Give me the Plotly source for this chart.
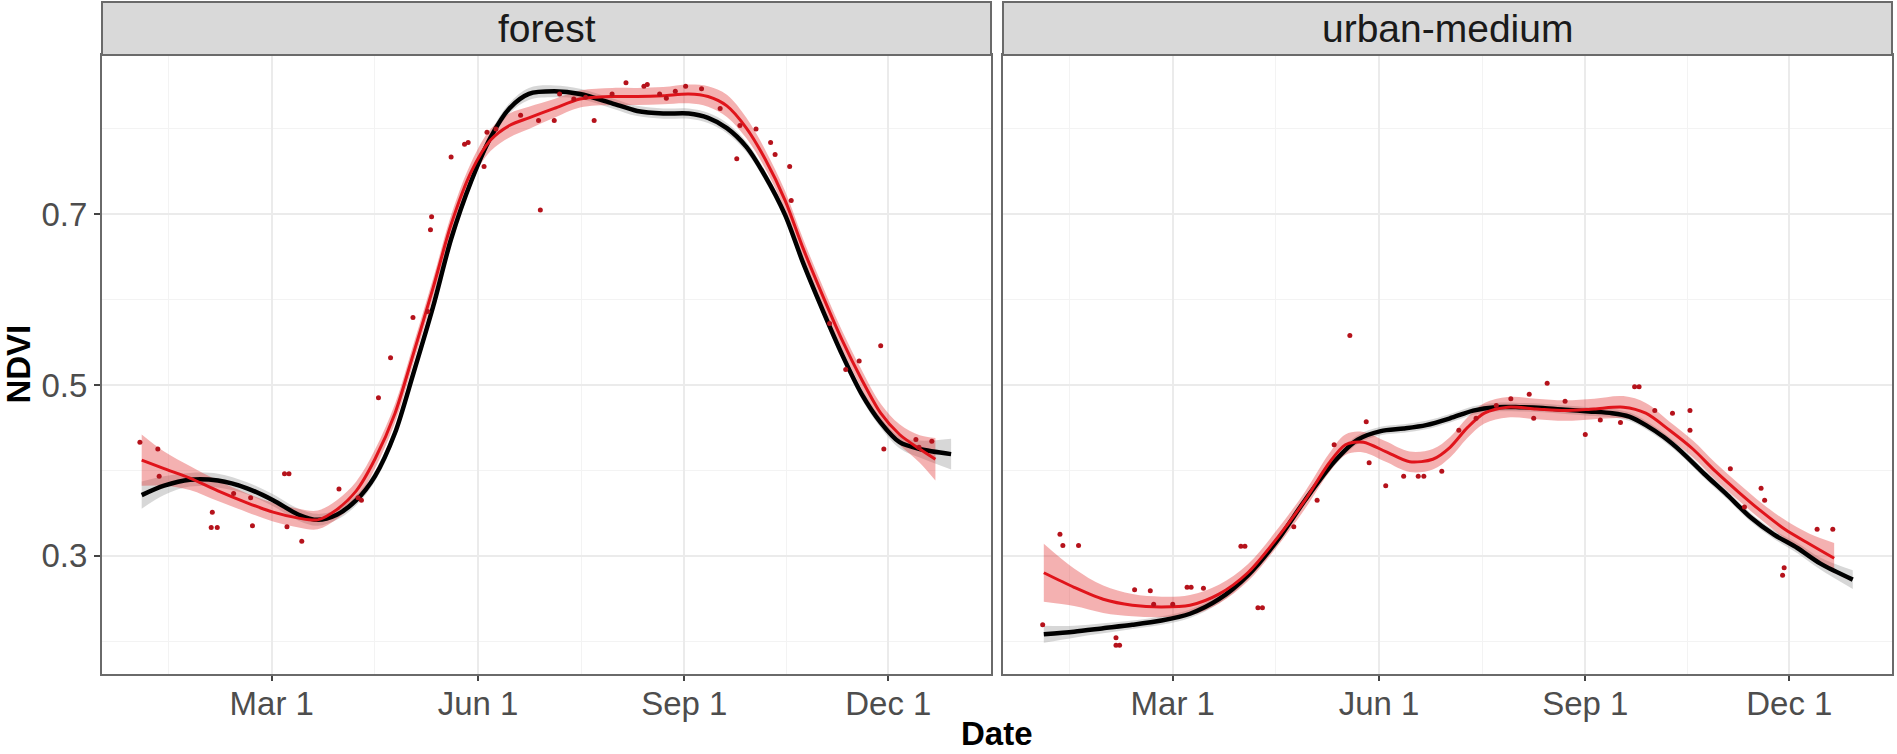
import pandas as pd
import plotly.graph_objects as go

# ---------------- data (day of year, NDVI) ----------------
BASE = pd.Timestamp("2017-01-01")

forest_black_day = [2, 12, 23.5, 36, 49, 60.6, 72, 80.5, 89, 97.7, 106, 115, 123, 132, 140, 149, 157.6, 166,
                    174.7, 186, 197.5, 211.8, 223, 234.6, 246, 254.6, 263, 271.7, 280, 289, 297, 306, 314.5,
                    323, 331.6, 340, 349, 363]
forest_black_val = [0.371, 0.382, 0.389, 0.388, 0.379, 0.365, 0.348, 0.342, 0.348, 0.365, 0.393, 0.444, 0.512,
                    0.592, 0.671, 0.739, 0.790, 0.824, 0.841, 0.844, 0.841, 0.830, 0.821, 0.818, 0.818, 0.813,
                    0.801, 0.779, 0.745, 0.699, 0.643, 0.586, 0.535, 0.490, 0.456, 0.433, 0.425, 0.419]
forest_black_se = [0.016, 0.011, 0.008, 0.008, 0.007, 0.007, 0.007, 0.007, 0.006, 0.006, 0.006, 0.006, 0.006,
                   0.006, 0.006, 0.006, 0.006, 0.006, 0.007, 0.007, 0.006, 0.006, 0.006, 0.006, 0.006, 0.006,
                   0.006, 0.006, 0.006, 0.006, 0.006, 0.006, 0.006, 0.006, 0.006, 0.007, 0.010, 0.018]

forest_red_day = [2, 12, 23.5, 36, 49, 60.6, 72, 80.5, 89, 97.7, 106, 115, 123, 132, 140, 149, 157.6, 166,
                  174.7, 186, 197.5, 211.8, 223, 234.6, 246, 254.6, 263, 271.7, 280, 289, 297, 306, 314.5,
                  323, 331.6, 340, 349, 356]
forest_red_val = [0.412, 0.402, 0.391, 0.376, 0.362, 0.351, 0.344, 0.342, 0.354, 0.376, 0.413, 0.467, 0.535,
                  0.614, 0.688, 0.750, 0.787, 0.804, 0.813, 0.824, 0.835, 0.838, 0.838, 0.839, 0.841, 0.838,
                  0.827, 0.801, 0.765, 0.716, 0.660, 0.603, 0.552, 0.507, 0.467, 0.442, 0.425, 0.413]
forest_red_se = [0.030, 0.020, 0.014, 0.012, 0.011, 0.011, 0.011, 0.011, 0.011, 0.011, 0.011, 0.011, 0.011,
                 0.011, 0.011, 0.011, 0.013, 0.014, 0.013, 0.011, 0.010, 0.010, 0.010, 0.010, 0.011, 0.012,
                 0.013, 0.012, 0.011, 0.011, 0.011, 0.011, 0.011, 0.011, 0.011, 0.012, 0.016, 0.025]

forest_pts_day = [1.2, 9.2, 9.8, 33.5, 33, 35.7, 43, 50.6, 51.4, 65.7, 67.7, 66.8, 73.4, 90, 98.5, 100, 107.6,
                  113, 123, 129.6, 130.8, 131.3, 140, 146, 147.6, 154.7, 156, 171, 179.8, 179, 186, 188.4,
                  194.7, 203.8, 211.8, 218, 226, 227.5, 233, 240, 244.6, 251.7, 260, 267.4, 268.8, 276,
                  282.5, 284.5, 291, 291.7, 308.8, 316, 322, 331.6, 333, 347.3, 348.7, 354.4, 160, 200, 236]
forest_pts_val = [0.433, 0.425, 0.393, 0.351, 0.333, 0.333, 0.373, 0.368, 0.335, 0.396, 0.396, 0.334, 0.317,
                  0.378, 0.368, 0.365, 0.485, 0.532, 0.579, 0.586, 0.682, 0.697, 0.767, 0.782, 0.784, 0.756,
                  0.796, 0.816, 0.705, 0.810, 0.810, 0.841, 0.835, 0.810, 0.841, 0.854, 0.850, 0.852, 0.841,
                  0.844, 0.850, 0.847, 0.824, 0.765, 0.804, 0.800, 0.784, 0.770, 0.756, 0.716, 0.572, 0.518,
                  0.528, 0.546, 0.425, 0.436, 0.427, 0.434, 0.800, 0.837, 0.836]

urban_black_day = [2.5, 16, 29, 42, 55, 67.7, 80.6, 93.5, 106.4, 119, 132, 142.5, 152.8, 163, 173, 183.7, 194,
                   204, 214.6, 225, 235, 245.6, 256, 263.6, 271, 279, 286.8, 297, 307.4, 317.7, 328, 338.6,
                   348.7, 363.3]
urban_black_val = [0.208, 0.211, 0.215, 0.219, 0.224, 0.232, 0.249, 0.277, 0.317, 0.365, 0.410, 0.436, 0.446,
                   0.449, 0.453, 0.461, 0.470, 0.474, 0.474, 0.473, 0.471, 0.469, 0.467, 0.463, 0.453, 0.439,
                   0.422, 0.396, 0.371, 0.345, 0.325, 0.309, 0.291, 0.272]
urban_black_se = [0.010, 0.007, 0.006, 0.005, 0.005, 0.005, 0.005, 0.005, 0.005, 0.005, 0.005, 0.005, 0.005,
                  0.005, 0.005, 0.005, 0.005, 0.005, 0.005, 0.005, 0.005, 0.005, 0.005, 0.005, 0.005, 0.005,
                  0.005, 0.005, 0.005, 0.005, 0.005, 0.006, 0.007, 0.011]

urban_red_day = [2.5, 16, 29, 42, 55, 67.7, 80.6, 93.5, 106.4, 119, 129.6, 137, 145, 155, 165.7, 176, 183.7,
                 191.4, 199, 209.5, 222, 235, 248, 261, 271, 281.6, 292, 302, 312.6, 323, 333, 343.8, 355]
urban_red_val = [0.280, 0.263, 0.249, 0.242, 0.240, 0.242, 0.255, 0.280, 0.320, 0.365, 0.408, 0.430, 0.433,
                 0.422, 0.410, 0.413, 0.427, 0.450, 0.467, 0.474, 0.472, 0.470, 0.472, 0.474, 0.467, 0.447,
                 0.425, 0.399, 0.374, 0.351, 0.331, 0.314, 0.297]
urban_red_se = [0.034, 0.022, 0.016, 0.013, 0.012, 0.012, 0.011, 0.010, 0.010, 0.010, 0.011, 0.012, 0.012,
                0.012, 0.012, 0.012, 0.012, 0.012, 0.012, 0.012, 0.012, 0.012, 0.012, 0.013, 0.012, 0.010,
                0.010, 0.010, 0.010, 0.010, 0.011, 0.012, 0.018]

urban_pts_day = [2, 9.7, 11, 18, 34.7, 34.7, 36.3, 43, 50, 51.5, 60, 66.4, 68.2, 73.7, 90.4, 92.2, 98, 100,
                 114, 124.4, 132, 139, 146.3, 147.6, 155, 163, 169.5, 172, 180, 187.6, 195.3, 204.3, 210.8,
                 219, 221, 227, 235, 244, 250.7, 259.7, 266, 268, 275, 282.9, 290.7, 290.7, 308.7, 315,
                 322.4, 324, 332, 332.7, 347.4, 354.4]
urban_pts_val = [0.219, 0.325, 0.312, 0.312, 0.204, 0.195, 0.195, 0.260, 0.259, 0.243, 0.243, 0.263, 0.263,
                 0.262, 0.311, 0.311, 0.239, 0.239, 0.334, 0.365, 0.430, 0.558, 0.457, 0.409, 0.382, 0.393,
                 0.393, 0.393, 0.399, 0.447, 0.461, 0.476, 0.484, 0.489, 0.461, 0.502, 0.481, 0.442, 0.459,
                 0.456, 0.498, 0.498, 0.470, 0.467, 0.470, 0.447, 0.402, 0.357, 0.379, 0.365, 0.277, 0.286,
                 0.331, 0.331]

panels = ["forest", "urban-medium"]
major_ticks_day = [60, 152, 244, 335]
major_ticks_text = ["Mar 1", "Jun 1", "Sep 1", "Dec 1"]
minor_ticks_day = [14, 106, 198, 289.5]
x_range_day = [-15.7, 380.8]
y_range = [0.1614, 0.8866]
y_ticks = [0.3, 0.5, 0.7]


def to_date(days):
    return [BASE + pd.Timedelta(days=d - 1) for d in days]


# ---------------- figure ----------------
BLACK = "#000000"
RED = "#E0141B"
RED_FILL = "rgba(225,50,50,0.38)"
GREY_FILL = "rgba(140,140,140,0.35)"
PT = "#B5121B"
FONT = "Liberation Sans, Arial, sans-serif"

fig = go.Figure()


def ribbon(day, val, se, color, xa, ya):
    x = to_date(day)
    up = [v + s for v, s in zip(val, se)]
    lo = [v - s for v, s in zip(val, se)]
    fig.add_trace(go.Scatter(x=x, y=up, mode="lines", line=dict(width=0, shape="spline"),
                             xaxis=xa, yaxis=ya, showlegend=False, hoverinfo="skip"))
    fig.add_trace(go.Scatter(x=x, y=lo, mode="lines", line=dict(width=0, shape="spline"),
                             fill="tonexty", fillcolor=color, xaxis=xa, yaxis=ya,
                             showlegend=False, hoverinfo="skip"))


def line(day, val, color, width, xa, ya):
    fig.add_trace(go.Scatter(x=to_date(day), y=val, mode="lines",
                             line=dict(color=color, width=width, shape="spline", smoothing=0.8),
                             xaxis=xa, yaxis=ya, showlegend=False))


def points(day, val, xa, ya):
    fig.add_trace(go.Scatter(x=to_date(day), y=val, mode="markers",
                             marker=dict(color=PT, size=5), xaxis=xa, yaxis=ya, showlegend=False))


sets = [
    ("x", "y", forest_black_day, forest_black_val, forest_black_se,
     forest_red_day, forest_red_val, forest_red_se, forest_pts_day, forest_pts_val),
    ("x2", "y2", urban_black_day, urban_black_val, urban_black_se,
     urban_red_day, urban_red_val, urban_red_se, urban_pts_day, urban_pts_val),
]
for xa, ya, bd, bv, bs, rd, rv, rs, pd_, pv in sets:
    ribbon(bd, bv, bs, GREY_FILL, xa, ya)
    ribbon(rd, rv, rs, RED_FILL, xa, ya)
    line(bd, bv, BLACK, 4.5, xa, ya)
    line(rd, rv, RED, 3, xa, ya)
    points(pd_, pv, xa, ya)

W, H = 1897, 754
ml, mr, mt, mb = 102, 3, 55, 80
pw = W - ml - mr
ph = H - mt - mb
gap = 12
panel_w = (pw - gap) / 2
d1 = [0, panel_w / pw]
d2 = [(panel_w + gap) / pw, 1]

tick_font = dict(family=FONT, size=33, color="#4D4D4D")
xr = [to_date([x_range_day[0]])[0], to_date([x_range_day[1]])[0]]

xaxis_common = dict(
    type="date", range=xr, tickmode="array", tickvals=to_date(major_ticks_day), ticktext=major_ticks_text,
    showgrid=True, gridcolor="#EBEBEB", gridwidth=2,
    minor=dict(tickmode="array", tickvals=to_date(minor_ticks_day), showgrid=True,
               gridcolor="#F3F3F3", gridwidth=1.2, ticks=""),
    ticks="outside", ticklen=5, tickwidth=2, tickcolor="#444444", ticklabelstandoff=-6,
    showline=True, linecolor="#6A6A6A", linewidth=2, mirror=True,
    tickfont=tick_font, zeroline=False, fixedrange=True,
)
yaxis_common = dict(
    range=y_range, tickmode="array", tickvals=y_ticks, ticktext=[f"{v:.1f}" for v in y_ticks],
    showgrid=True, gridcolor="#EBEBEB", gridwidth=2,
    minor=dict(tickmode="array", tickvals=[0.2, 0.4, 0.6, 0.8], showgrid=True,
               gridcolor="#F3F3F3", gridwidth=1.2, ticks=""),
    showline=True, linecolor="#6A6A6A", linewidth=2, mirror=True,
    tickfont=tick_font, zeroline=False, fixedrange=True,
)

fig.update_layout(
    width=W, height=H,
    margin=dict(l=ml, r=mr, t=mt, b=mb, pad=0),
    paper_bgcolor="white", plot_bgcolor="white",
    xaxis=dict(domain=d1, anchor="y", **xaxis_common),
    xaxis2=dict(domain=d2, anchor="y2", **xaxis_common),
    yaxis=dict(domain=[0, 1], anchor="x", ticks="outside", ticklen=6, tickwidth=2, tickcolor="#444444",
               **yaxis_common),
    yaxis2=dict(domain=[0, 1], anchor="x2", ticks="", showticklabels=False, **yaxis_common),
    showlegend=False,
)

strip_top = 1 + 53 / ph
shapes = []
annotations = []
for (xref, name) in [("x domain", panels[0]), ("x2 domain", panels[1])]:
    shapes.append(dict(type="rect", xref=xref, yref="paper", x0=0, x1=1, y0=1, y1=strip_top,
                       fillcolor="#D9D9D9", line=dict(color="#6A6A6A", width=2), layer="above"))
    annotations.append(dict(text=name, xref=xref, yref="paper", x=0.5, y=1 + 27 / ph,
                            xanchor="center", yanchor="middle", showarrow=False,
                            font=dict(family=FONT, size=39, color="#1A1A1A")))

annotations.append(dict(text="<b>Date</b>", xref="paper", yref="paper", x=0.5, y=-(733 - 674) / ph,
                        xanchor="center", yanchor="middle", showarrow=False,
                        font=dict(family=FONT, size=33, color="#000000")))
annotations.append(dict(text="<b>NDVI</b>", xref="paper", yref="paper", x=(18 - ml) / pw, y=0.5,
                        xanchor="center", yanchor="middle", showarrow=False, textangle=-90,
                        font=dict(family=FONT, size=33, color="#000000")))
fig.update_layout(shapes=shapes, annotations=annotations)

fig.write_html("out.html", config={"displayModeBar": False},
               post_script="document.body.style.margin='0px';document.body.style.overflow='hidden';")
